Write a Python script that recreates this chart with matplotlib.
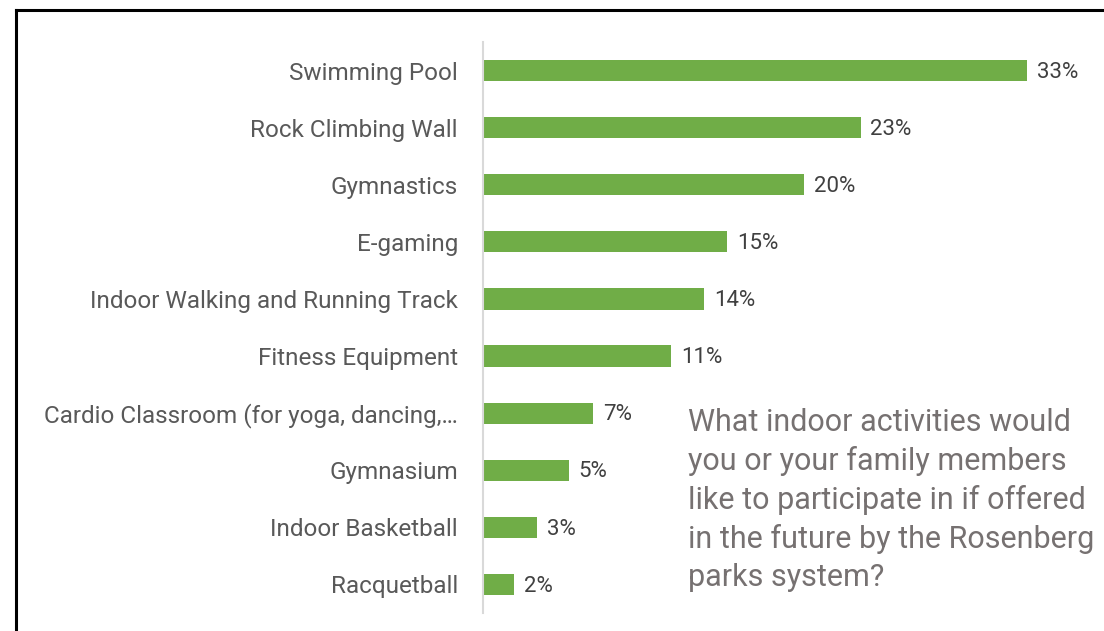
import matplotlib
matplotlib.use("Agg")
import matplotlib.pyplot as plt
from matplotlib.lines import Line2D

plt.rcParams['font.family'] = ['Roboto', 'DejaVu Sans']

activities = ["Swimming Pool", "Rock Climbing Wall", "Gymnastics", "E-gaming",
              "Indoor Walking and Running Track", "Fitness Equipment",
              "Cardio Classroom (for yoga, dancing,\u2026", "Gymnasium",
              "Indoor Basketball", "Racquetball"]
shares = [33.0, 22.9, 19.5, 14.8, 13.4, 11.4, 6.7, 5.2, 3.3, 1.9]
share_labels = ["33%", "23%", "20%", "15%", "14%", "11%", "7%", "5%", "3%", "2%"]

question = ("What indoor activities would\n"
            "you or your family members\n"
            "like to participate in if offered\n"
            "in the future by the Rosenberg\n"
            "parks system?")

fig = plt.figure(figsize=(11.04, 6.31), dpi=100)
ax = fig.add_axes([483 / 1104, 1 - 613 / 631, (1027 - 483) / 1104, (613 - 42) / 631])

ypos = list(range(len(activities)))
ax.barh(ypos, shares, height=0.37, color="#70AD47")
ax.set_ylim(len(activities) - 0.5, -0.5)
ax.set_xlim(0, max(shares))

for y, v, lab in zip(ypos, shares, share_labels):
    ax.text(v + 0.6, y + 0.03, lab, va="center", ha="left", fontsize=16,
            color="#404040", clip_on=False)

ax.set_yticks(ypos)
ax.set_yticklabels(activities, fontsize=17.5, color="#595959")
ax.tick_params(axis="y", length=0, pad=18)
ax.set_xticks([])
for s in ["top", "right", "bottom"]:
    ax.spines[s].set_visible(False)
ax.spines["left"].set_color("#D9D9D9")
ax.spines["left"].set_linewidth(1.5)

fig.text(688 / 1104, 1 - 408 / 631, question, ha="left", va="top",
         fontsize=22, color="#767171", linespacing=1.38)

# outer frame (top and left edges visible)
fig.add_artist(Line2D([16 / 1104, 1.0], [1 - 10 / 631, 1 - 10 / 631],
                      color="black", lw=2.2, transform=fig.transFigure))
fig.add_artist(Line2D([16 / 1104, 16 / 1104], [0.0, 1 - 10 / 631],
                      color="black", lw=2.2, transform=fig.transFigure))

fig.savefig("out.png", dpi=100)
